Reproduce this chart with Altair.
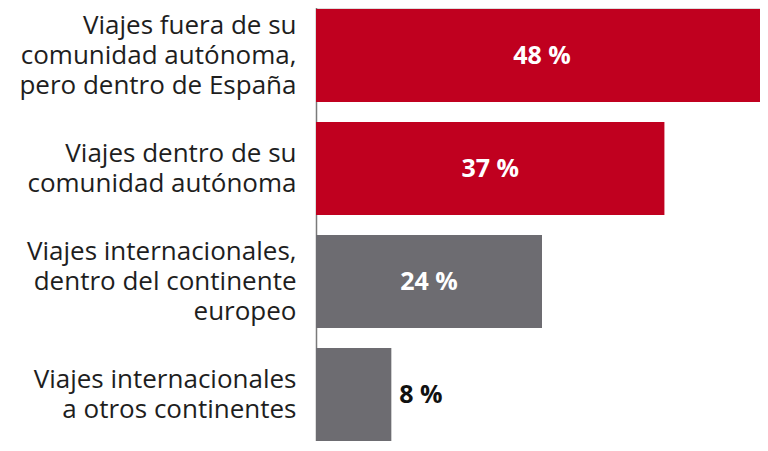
import altair as alt
import pandas as pd

categories = [
    "Viajes fuera de su|comunidad autónoma,|pero dentro de España",
    "Viajes dentro de su|comunidad autónoma",
    "Viajes internacionales,|dentro del continente|europeo",
    "Viajes internacionales|a otros continentes",
]
values = [48, 37, 24, 8]
labels = ["48 %", "37 %", "24 %", "8 %"]
colors = ["#C0001F", "#C0001F", "#6D6C71", "#6D6C71"]

df = pd.DataFrame({"cat": categories, "value": values, "label": labels, "color": colors})

FONT = "Open Sans"

y = alt.Y(
    "cat:N",
    sort=categories,
    scale=alt.Scale(range=[-9, 443], paddingInner=0.177, paddingOuter=0.0885),
    axis=alt.Axis(
        title=None,
        labelExpr="split(datum.label, '|')",
        labelFont=FONT,
        labelFontSize=26,
        labelColor="#1e1e1e",
        labelLineHeight=30,
        labelPadding=20,
        labelAlign="right",
        labelBaseline="middle",
        labelOffset={
            "condition": {"test": "length(split(datum.value, '|')) == 3", "value": -30},
            "value": -15,
        },
        ticks=False,
        domainColor="#7a7a7a",
        domainWidth=1.5,
        labelLimit=400,
    ),
)
xscale = alt.Scale(domain=[0, 48], range=[0, 452])
x = alt.X("value:Q", scale=xscale, axis=None)

base = alt.Chart(df)

bars = base.mark_bar().encode(x=x, y=y, color=alt.Color("color:N", scale=None))

inside = base.transform_filter("datum.value > 10").transform_calculate(
    mid="datum.value / 2"
).mark_text(font=FONT, fontWeight="bold", fontSize=25, color="white").encode(
    x=alt.X("mid:Q", scale=xscale, axis=None),
    y=alt.Y("cat:N", sort=categories),
    text="label:N",
)

outside = base.transform_filter("datum.value <= 10").mark_text(
    font=FONT, fontWeight="bold", fontSize=25, color="#111111", align="left", dx=8
).encode(
    x=x,
    y=alt.Y("cat:N", sort=categories),
    text="label:N",
)

chart = (
    alt.layer(bars, inside, outside)
    .properties(
        width=444,
        height=433,
        autosize=alt.AutoSizeParams(type="none"),
        padding={"left": 308, "top": 0, "right": 0, "bottom": 0},
    )
    .configure_view(stroke=None)
    .configure(background="white")
)

chart.save("out.html", embed_options={"renderer": "svg", "actions": False})
